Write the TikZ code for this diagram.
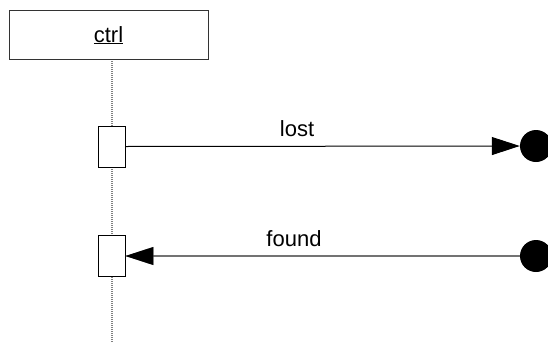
\documentclass[tikz,border=0pt]{standalone}
\usepackage{fontspec}
\setmainfont{Liberation Sans}
\usetikzlibrary{arrows.meta}
\begin{document}
\begin{tikzpicture}[x=1pt,y=-1pt,
  obj/.style={draw=black!80,line width=1pt,fill=white,minimum width=199pt,minimum height=49pt,inner sep=0pt},
  act/.style={draw=black,line width=0.8pt,fill=white,minimum width=27pt,minimum height=41pt,inner sep=0pt},
  endpt/.style={circle,fill=black,minimum size=32pt,inner sep=0pt},
  lbl/.style={font=\fontsize{22}{26}\selectfont,text=black,inner sep=0pt,anchor=base},
  tip/.style={-{Triangle[length=28pt,width=18pt]}}]
\useasboundingbox (0,0) rectangle (548,343);
\coordinate (lifetop) at (112,59);
\coordinate (lifebot) at (112,343);
\draw[gray,line width=1.2pt,dash pattern=on 1pt off 1pt] (lifetop) -- (lifebot);
\node[obj] (ctrl) at (108.5,34.5) {};
\node[lbl] (ctrltext) at (108.5,42) {\underline{ctrl}};
\node[act] (a1) at (111.5,146.5) {};
\node[act] (a2) at (111.5,256) {};
\node[endpt] (d1) at (536,146) {};
\node[endpt] (d2) at (536,256) {};
\draw[tip,line width=1pt,black] (a1.east) -- (d1.west);
\draw[tip,line width=1.4pt,black!55] (d2.west) -- (a2.east);
\fill[black] (a2.east) -- ++(28,-9) -- ++(0,18) -- cycle;
\node[lbl] (l1) at (297,136) {lost};
\node[lbl] (l2) at (294,246) {found};
\end{tikzpicture}
\end{document}
